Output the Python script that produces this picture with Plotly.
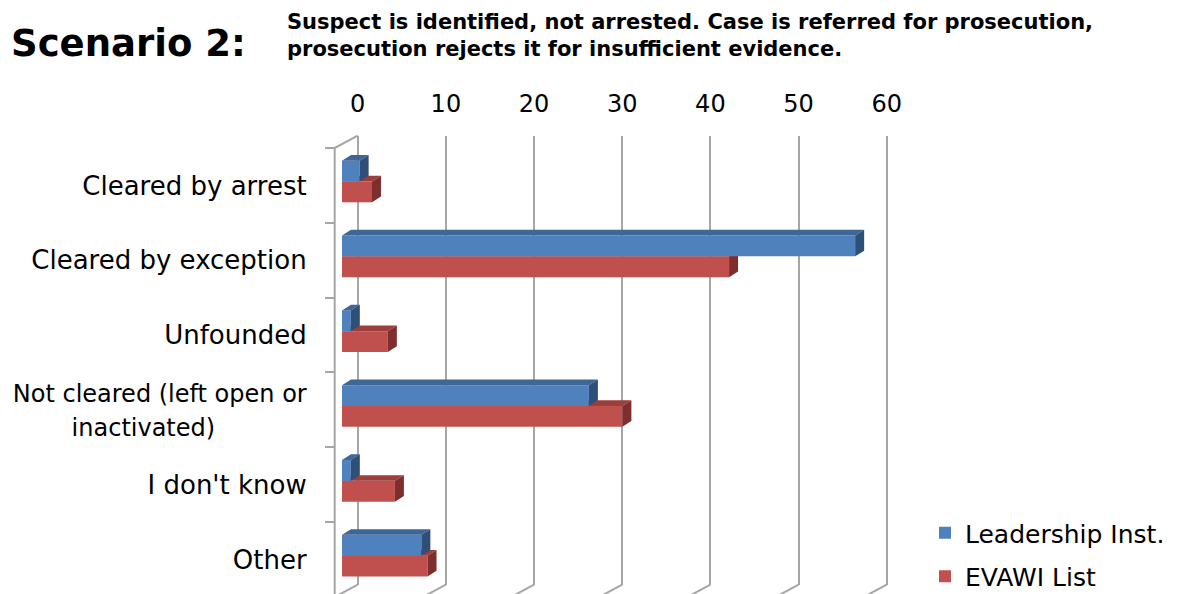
import plotly.graph_objects as go

# ---- data -------------------------------------------------------------
categories = [
    "Cleared by arrest",
    "Cleared by exception",
    "Unfounded",
    "Not cleared (left open or<br>inactivated)" + "\u00a0" * 12,
    "I don't know",
    "Other",
]
series_names = ["Leadership Inst.", "EVAWI List"]
leadership = [2.0, 58.2, 1.0, 28.0, 1.0, 9.0]
evawi = [3.4, 43.9, 5.2, 31.8, 6.0, 9.7]
value_ticks = [0, 10, 20, 30, 40, 50, 60]

title_text = "Scenario 2:"
subtitle_text = ("Suspect is identified, not arrested. Case is referred for prosecution,<br>"
                 "prosecution rejects it for insufficient evidence.")

# ---- geometry (pixels) -----------------------------------------------
W, H = 1179, 594
ML, MR, MT, MB = 300, 250, 120, 0
PW, PH = W - ML - MR, H - MT - MB

UNIT = 8.817          # px per value unit
BAND = 74.83          # px per category band
FRONT_X0 = 334.7      # value 0 on the front edge of the side wall
FRONT_TOP = 148.0     # top of the first band on the front edge
WALL_DX, WALL_DY = 23.0, -12.3     # depth of the chart box
BAR_OFF_DX, BAR_OFF_DY = 7.3, -3.9  # bar front plane inside the box
BAR_DX, BAR_DY = 9.0, -5.7          # bar depth
BAR_H = 20.8
PAD = 0.3             # small overhang so the end gridlines stay inside the range

FONT = "DejaVu Sans"
LABEL_SIZE = 26
LONG_LABEL_SIZE = 24  # two-line label is set a little smaller so it fits the page
GRID = "#A6A6A6"
BLUE = dict(front="#4F81BD", top="#3E6696", side="#2E4F78")
RED = dict(front="#C0504D", top="#9C3E3B", side="#7E2F2D")


def fx(px):
    return (px - ML) / PW


def fy(py):
    return (H - MB - py) / PH


def tick_label(text):
    if "<br>" in text:
        return '<span style="font-size:%dpx">%s</span>' % (LONG_LABEL_SIZE, text)
    return text


n = len(categories)
x2_range = [(ML - FRONT_X0) / UNIT, (ML + PW - FRONT_X0) / UNIT]
y2_range = [-0.5 + (MT + PH - FRONT_TOP) / BAND, -0.5 - (FRONT_TOP - MT) / BAND]

bx0 = BAR_OFF_DX / UNIT
bar_w = BAR_H / BAND
ddx, ddy = BAR_DX / UNIT, BAR_DY / BAND
wdx, wdy = WALL_DX / UNIT, WALL_DY / BAND
shift = BAR_OFF_DY / BAND
vmin, vmax = value_ticks[0], value_ticks[-1]

fig = go.Figure()

# ---- box edges (side wall / floor) ------------------------------------
edge_x, edge_y = [], []
edge_x += [0, 0, None, 0, wdx, None]
edge_y += [n - 0.5, -0.5, None, -0.5, -0.5 + wdy, None]
for v in value_ticks:
    edge_x += [v, v + wdx, None]
    edge_y += [n - 0.5, n - 0.5 + wdy, None]
fig.add_trace(go.Scatter(x=edge_x, y=edge_y, mode="lines", xaxis="x2", yaxis="y2",
                         line=dict(color=GRID, width=2), showlegend=False,
                         hoverinfo="skip", zorder=0))

# placeholder trace so the back-wall axes get drawn
fig.add_trace(go.Scatter(x=[None], y=[None], xaxis="x", yaxis="y",
                         showlegend=False, hoverinfo="skip"))


def faces(values, offset):
    tx, ty, sx, sy = [], [], [], []
    for i, v in enumerate(values):
        x0, x1 = bx0, bx0 + v
        yt = i + offset
        yb = yt + bar_w
        tx += [x0, x1, x1 + ddx, x0 + ddx, x0, None]
        ty += [yt, yt, yt + ddy, yt + ddy, yt, None]
        sx += [x1, x1 + ddx, x1 + ddx, x1, x1, None]
        sy += [yt, yt + ddy, yb + ddy, yb, yt, None]
    return tx, ty, sx, sy


# red series first (lower bar of each pair), blue drawn over it
series = [
    (series_names[1], evawi, shift, RED, 1, 1, 2),
    (series_names[0], leadership, shift - bar_w, BLUE, 2, 3, 1),
]
for name, vals, off, col, zbar, zface, rank in series:
    tx, ty, sx, sy = faces(vals, off)
    fig.add_trace(go.Bar(
        orientation="h", y=list(range(n)), x=vals, base=bx0, offset=off, width=bar_w,
        marker=dict(color=col["front"], line=dict(width=0)), name=name,
        xaxis="x2", yaxis="y2", legendrank=rank, legendgroup=name, zorder=zbar,
        hoverinfo="skip"))
    for px_, py_, c in ((tx, ty, col["top"]), (sx, sy, col["side"])):
        fig.add_trace(go.Scatter(x=px_, y=py_, mode="lines", fill="toself", fillcolor=c,
                                 line=dict(width=0, color=c), xaxis="x2", yaxis="y2",
                                 showlegend=False, hoverinfo="skip", zorder=zface))

back_left = FRONT_X0 + WALL_DX
fig.update_layout(
    width=W, height=H,
    margin=dict(l=ML, r=MR, t=MT, b=MB, pad=0, autoexpand=False),
    paper_bgcolor="white", plot_bgcolor="rgba(0,0,0,0)",
    barmode="overlay", hovermode=False,
    font=dict(family=FONT, color="#000000"),
    xaxis=dict(domain=[fx(back_left + (vmin - PAD) * UNIT), fx(back_left + (vmax + PAD) * UNIT)],
               range=[vmin - PAD, vmax + PAD], anchor="y", side="top", tickvals=value_ticks,
               showgrid=True, gridcolor=GRID, gridwidth=2, zeroline=False,
               showline=True, linecolor=GRID, linewidth=2, ticks="", automargin=False,
               tickfont=dict(size=24, family=FONT), ticklabelstandoff=12),
    yaxis=dict(domain=[fy(FRONT_TOP + WALL_DY + n * BAND), fy(FRONT_TOP + WALL_DY)],
               range=[0, 1], anchor="x", visible=False),
    xaxis2=dict(domain=[0, 1], range=x2_range, anchor="y2", visible=False),
    yaxis2=dict(domain=[0, 1], range=y2_range, anchor="free", position=fx(FRONT_X0),
                tickvals=list(range(n)), ticktext=[tick_label(c) for c in categories],
                ticks="", automargin=False,
                showgrid=False, zeroline=False, showline=False,
                minor=dict(tickvals=[i - 0.5 for i in range(n + 1)], ticks="outside",
                           ticklen=10, tickwidth=2, tickcolor=GRID, showgrid=False),
                tickfont=dict(size=LABEL_SIZE, family=FONT), ticklabelstandoff=28),
    legend=dict(x=fx(925), y=fy(510), xanchor="left", yanchor="top",
                font=dict(size=25, family=FONT), traceorder="grouped",
                tracegroupgap=8, bgcolor="rgba(0,0,0,0)"),
    annotations=[
        dict(text="<b>" + title_text + "</b>", xref="paper", yref="paper",
             x=fx(9), y=fy(44), xanchor="left", yanchor="middle", showarrow=False,
             font=dict(size=37, family=FONT)),
        dict(text="<b>" + subtitle_text + "</b>", xref="paper", yref="paper",
             x=fx(285), y=fy(35), xanchor="left", yanchor="middle", showarrow=False,
             align="left", font=dict(size=21, family=FONT)),
    ],
)

fig.write_html("out.html")
